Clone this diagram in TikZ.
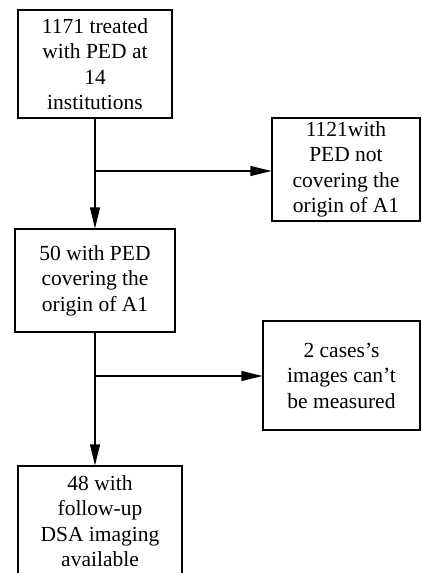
\documentclass[tikz,border=0pt]{standalone}
\usepackage{fontspec}
\setmainfont{Liberation Serif}
\usetikzlibrary{arrows.meta}
\begin{document}
\begin{tikzpicture}[x=1pt,y=-1pt,
  box/.style={draw,line width=1.2pt,rectangle,inner sep=0pt,align=center,
    font=\fontsize{21.5}{25.5}\selectfont},
  conn/.style={line width=1.2pt,-{Triangle[length=21pt,width=10pt]}}]
\useasboundingbox (0,0) rectangle (421,573);
\clip (0,0) rectangle (421,573);
\node[box,minimum width=154pt,minimum height=108pt] (a) at (95,64) {1171 treated\\with PED at\\14\\institutions};
\node[box,minimum width=148pt,minimum height=103pt] (b) at (346,169.5) {1121with\\PED not\\covering the\\origin of A1};
\node[box,minimum width=160pt,minimum height=103pt] (c) at (95,280.5) {50 with PED\\covering the\\origin of A1};
\node[box,minimum width=157pt,minimum height=109pt] (d) at (341.5,375.5) {2 cases's\\images can't\\be measured};
\node[box,minimum width=164pt,minimum height=110pt] (e) at (100,521) {48 with\\follow-up\\DSA imaging\\available};
\coordinate (j1) at (95,171);
\coordinate (j2) at (95,376);
\draw[conn] (a.south) -- (c.north);
\draw[conn] (j1) -- (j1 -| b.west);
\draw[conn] (c.south) -- (c.south |- e.north);
\draw[conn] (j2) -- (j2 -| d.west);
\end{tikzpicture}
\end{document}
